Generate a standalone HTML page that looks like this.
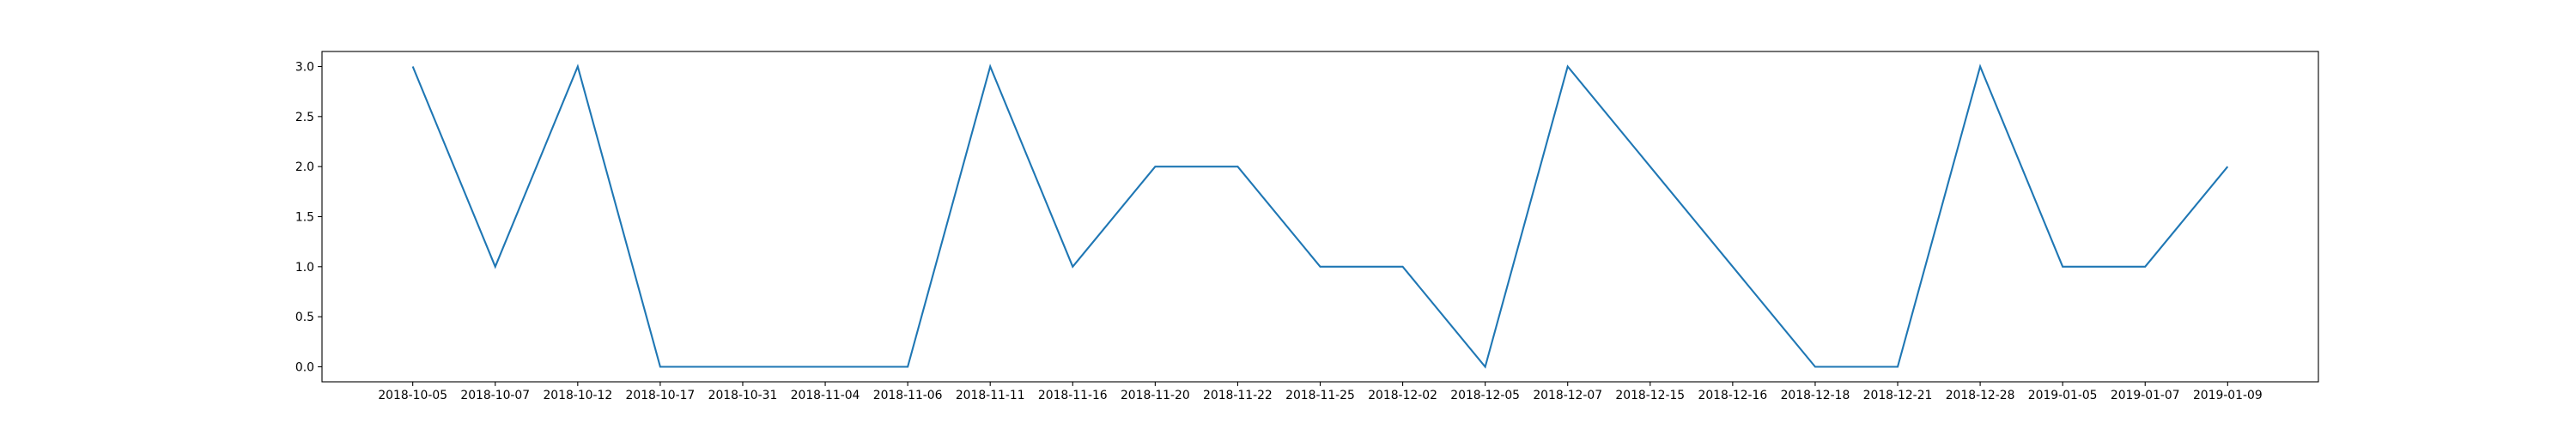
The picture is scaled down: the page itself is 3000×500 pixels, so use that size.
<!DOCTYPE html>
<html><head><meta charset="utf-8"><style>body{margin:0;background:#fff}svg{display:block}text{font-family:"DejaVu Sans","Liberation Sans",sans-serif;font-size:13.9px;fill:#000}</style></head>
<body>
<svg id="chart" width="3000" height="500"></svg>
<script>
const categories=["2018-10-05","2018-10-07","2018-10-12","2018-10-17","2018-10-31","2018-11-04","2018-11-06","2018-11-11","2018-11-16","2018-11-20","2018-11-22","2018-11-25","2018-12-02","2018-12-05","2018-12-07","2018-12-15","2018-12-16","2018-12-18","2018-12-21","2018-12-28","2019-01-05","2019-01-07","2019-01-09"];
const values=[3,1,3,0,0,0,0,3,1,2,2,1,1,0,3,2,1,0,0,3,1,1,2];
const yTicks=[0,0.5,1,1.5,2,2.5,3];
const yTickLabels=["0.0","0.5","1.0","1.5","2.0","2.5","3.0"];
const NS="http://www.w3.org/2000/svg";
const svg=document.getElementById('chart');
const L=375,R=2700,T=60,B=445;
const n=categories.length;
const xmin=-0.05*(n-1),xmax=(n-1)*1.05;
const ymin=-0.15,ymax=3.15;
function xs(i){return L+(i-xmin)/(xmax-xmin)*(R-L);}
function ys(v){return B-(v-ymin)/(ymax-ymin)*(B-T);}
function mk(t,a){const e=document.createElementNS(NS,t);for(const k in a)e.setAttribute(k,a[k]);svg.appendChild(e);return e;}
let pts=values.map((v,i)=>xs(i).toFixed(2)+","+ys(v).toFixed(2)).join(" ");
let line=mk('polyline',{points:pts,fill:'none',stroke:'#1f77b4','stroke-width':2.1,'stroke-linejoin':'miter'});


categories.forEach((c,i)=>{
 const x=xs(i);
 let t=mk('line',{x1:x,x2:x,y1:B,y2:B+4.9,stroke:'#000','stroke-width':1.1});
 
 
 let l=mk('text',{x:x,y:B+20,'text-anchor':'middle'});l.textContent=c;
 
 
});
yTicks.forEach((v,i)=>{
 const y=ys(v);
 let t=mk('line',{x1:L-4.9,x2:L,y1:y,y2:y,stroke:'#000','stroke-width':1.1});
 
 
 let l=mk('text',{x:L-9,y:y+5,'text-anchor':'end'});l.textContent=yTickLabels[i];
 
 
});
let f=mk('rect',{x:L,y:T,width:R-L,height:B-T,fill:'none',stroke:'#000','stroke-width':1.1});


</script>
</body></html>
